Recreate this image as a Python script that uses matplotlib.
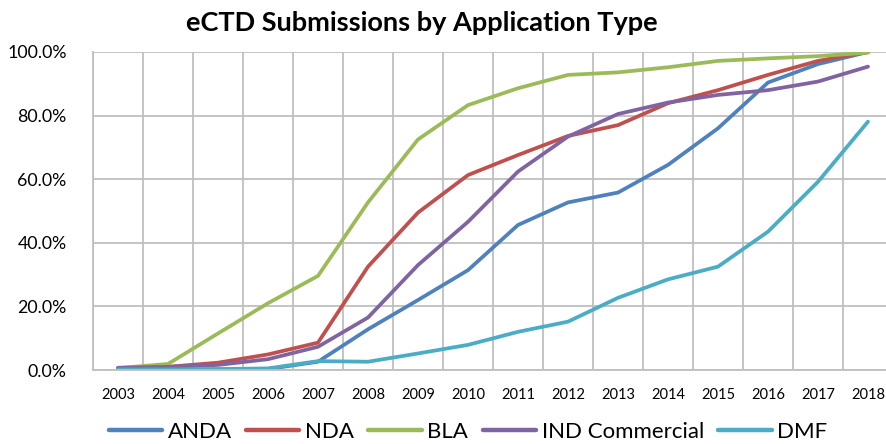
import matplotlib
matplotlib.use("Agg")
import matplotlib.pyplot as plt
from matplotlib.ticker import FuncFormatter, MultipleLocator, FixedLocator

years = [str(y) for y in range(2003, 2019)]
anda = [0.1, 0.1, 0.2, 0.3, 2.6, 12.8, 22.0, 31.4, 45.6, 52.7, 55.8, 64.5, 76.0, 90.4, 96.2, 100.0]
nda = [0.6, 1.0, 2.3, 4.9, 8.6, 32.5, 49.5, 61.3, 67.6, 73.6, 77.0, 83.9, 88.0, 92.8, 97.2, 100.0]
bla = [0.6, 1.9, 11.5, 21.0, 29.6, 52.7, 72.5, 83.3, 88.6, 92.8, 93.6, 95.2, 97.2, 98.0, 98.7, 99.8]
ind = [0.7, 1.0, 1.6, 3.4, 7.3, 16.5, 33.0, 46.6, 62.4, 73.4, 80.5, 84.1, 86.5, 88.0, 90.7, 95.4]
dmf = [0.2, 0.2, 0.3, 0.5, 2.8, 2.6, 5.2, 7.9, 12.0, 15.2, 22.7, 28.5, 32.5, 43.5, 59.2, 78.1]

series = [("ANDA", anda, "#4F81BD"), ("NDA", nda, "#C0504D"), ("BLA", bla, "#9BBB59"),
          ("IND Commercial", ind, "#8064A2"), ("DMF", dmf, "#4BACC6")]

plt.rcParams['font.family'] = ['Lato', 'DejaVu Sans']

W, H = 886, 444
fig = plt.figure(figsize=(W / 100, H / 100), dpi=100)
ax = fig.add_axes([93 / W, (H - 370) / H, 800 / W, 318 / H])

x = list(range(len(years)))
for name, vals, col in series:
    ax.plot(x, vals, color=col, lw=2.7, label=name, solid_capstyle='round')

ax.set_xlim(-0.5, len(years) - 0.5)
ax.set_ylim(0, 100)
ax.yaxis.set_major_locator(MultipleLocator(20))
ax.yaxis.set_major_formatter(FuncFormatter(lambda v, p: f"{v:.1f}%"))
ax.set_xticks(x)
ax.set_xticklabels(years, fontsize=10.5)
ax.xaxis.set_minor_locator(FixedLocator([i - 0.5 for i in range(len(years) + 1)]))
ax.grid(True, which='minor', axis='x', color='#BFBFBF', lw=1.3)
ax.grid(True, which='major', axis='y', color='#BFBFBF', lw=1.3)
ax.set_axisbelow(True)
ax.tick_params(axis='both', which='both', length=0)
ax.tick_params(axis='y', labelsize=12.8, pad=19)
ax.tick_params(axis='x', pad=13)
for s in ['top', 'right']:
    ax.spines[s].set_visible(False)
for s in ['left', 'bottom']:
    ax.spines[s].set_color('#BFBFBF')
    ax.spines[s].set_linewidth(1.3)

fig.text(422 / W, 1 - 23 / H, "eCTD Submissions by Application Type", ha='center', va='center',
         fontsize=19.5, fontweight='bold')

leg = fig.legend(loc='center', bbox_to_anchor=(468 / W, 1 - 432 / H), ncol=5, frameon=False,
                 fontsize=16, handlelength=2.4, handletextpad=0.25, columnspacing=0.65,
                 borderaxespad=0, borderpad=0)
for l in leg.get_lines():
    l.set_linewidth(3.2)

fig.savefig("out.png", dpi=100)
